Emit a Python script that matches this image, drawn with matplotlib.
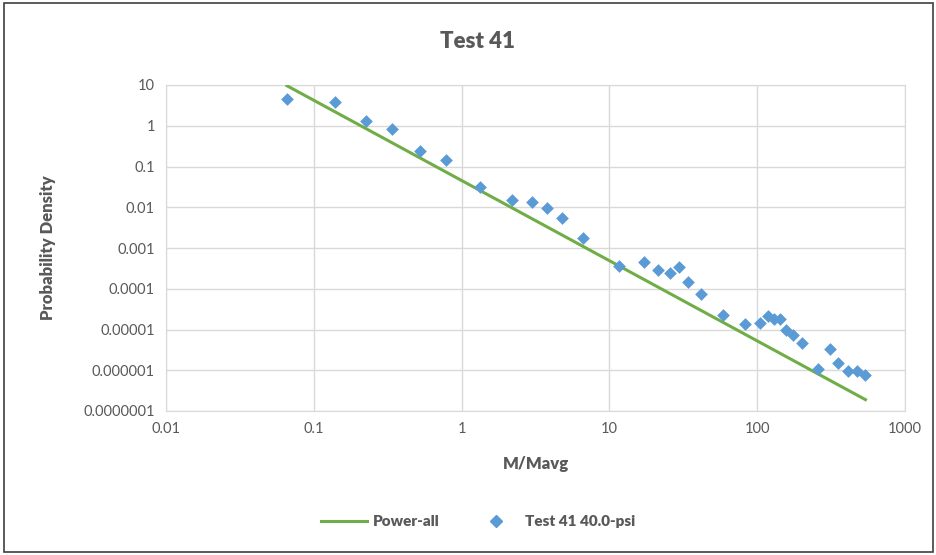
import matplotlib.pyplot as plt
from matplotlib.patches import Rectangle
from matplotlib.lines import Line2D

plt.rcParams['font.family'] = ['Lato', 'DejaVu Sans']

# Test 41 40.0-psi data points
m_ratio = [0.0658, 0.139, 0.224, 0.336, 0.52, 0.78, 1.34, 2.2, 3.0, 3.78,
           4.76, 6.64, 11.7, 17.1, 21.4, 25.9, 29.6, 33.8, 41.4, 58.3,
           82.6, 104, 119, 130, 142, 156, 175, 201, 258, 313,
           354, 412, 474, 540]
density = [4.5, 3.8, 1.31, 0.83, 0.24, 0.145, 0.031, 0.015, 0.0135, 0.0096,
           0.0054, 0.0018, 3.55e-4, 4.5e-4, 2.9e-4, 2.5e-4, 3.4e-4, 1.5e-4, 7.3e-5, 2.3e-5,
           1.34e-5, 1.47e-5, 2.15e-5, 1.85e-5, 1.8e-5, 9.7e-6, 7.4e-6, 4.6e-6, 1.05e-6, 3.4e-6,
           1.54e-6, 9.8e-7, 9.8e-7, 7.5e-7]

# Power-all trend line end points
fit_x = [0.0658, 540]
fit_y = [9.6, 1.9e-7]

x_ticks = [0.01, 0.1, 1, 10, 100, 1000]
x_labels = ['0.01', '0.1', '1', '10', '100', '1000']
y_ticks = [1e-7, 1e-6, 1e-5, 1e-4, 1e-3, 1e-2, 1e-1, 1, 10]
y_labels = ['0.0000001', '0.000001', '0.00001', '0.0001', '0.001', '0.01', '0.1', '1', '10']

text_col = '#595959'
grid_col = '#d9d9d9'

fig = plt.figure(figsize=(9.37, 5.55), dpi=100)
W, H = 937, 555
ax = fig.add_axes([166 / W, 1 - 411 / H, (905 - 166) / W, (411 - 85) / H])

ax.plot(fit_x, fit_y, color='#70AD47', lw=2.2, zorder=3)
ax.scatter(m_ratio, density, marker='D', s=42, color='#5B9BD5', zorder=4, linewidths=0)

ax.set_xscale('log')
ax.set_yscale('log')
ax.set_xlim(0.01, 1000)
ax.set_ylim(1e-7, 10)
ax.set_xticks(x_ticks)
ax.set_xticklabels(x_labels)
ax.set_yticks(y_ticks)
ax.set_yticklabels(y_labels)
ax.minorticks_off()
ax.tick_params(length=0, labelsize=10.5, colors=text_col, pad=8)
ax.grid(True, color=grid_col, lw=1)
for s in ax.spines.values():
    s.set_color(grid_col)
ax.set_axisbelow(True)

ax.set_xlabel('M/Mavg', fontsize=12, fontweight='heavy', color=text_col, labelpad=14)
ax.set_ylabel('Probability Density', fontsize=12, fontweight='heavy', color=text_col, labelpad=20)

fig.text(478 / W, 1 - 42 / H, 'Test 41', ha='center', va='center',
         fontsize=16, fontweight='heavy', color=text_col)

handles = [Line2D([0], [0], color='#70AD47', lw=2.2),
           Line2D([0], [0], marker='D', color='#5B9BD5', lw=0, markersize=6.5)]
fig.legend(handles, ['Power-all', 'Test 41 40.0-psi'], loc='center',
           bbox_to_anchor=(478 / W, 1 - 522 / H), ncol=2, frameon=False,
           prop={'size': 11, 'weight': 'heavy'}, labelcolor=text_col,
           columnspacing=2.2, handlelength=3, handletextpad=0.4)

fig.patches.append(Rectangle((4 / W, 3 / H), 929 / W, 549 / H, transform=fig.transFigure,
                             fill=False, edgecolor='#404040', lw=1.2))

fig.savefig('out.png', dpi=100)
